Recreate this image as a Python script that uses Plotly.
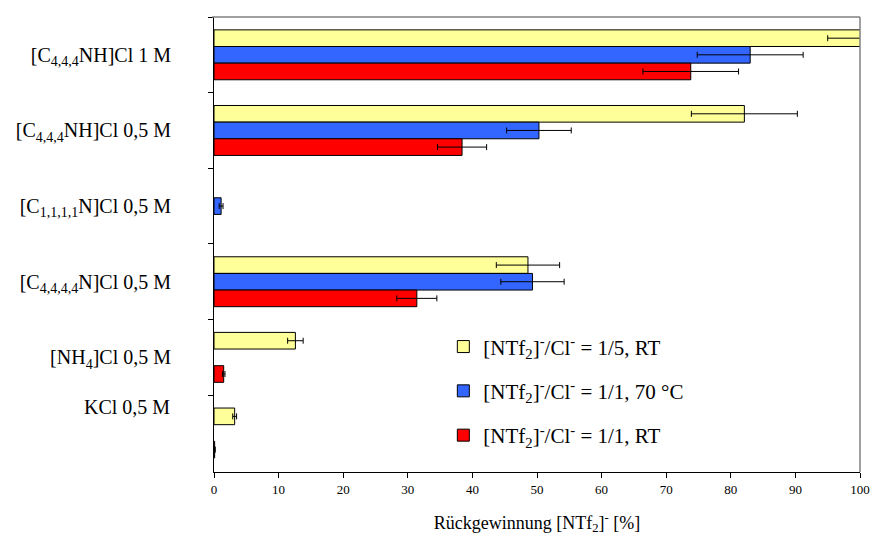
import plotly.graph_objects as go

# Salt solutions used for the extraction (top to bottom)
categories = [
    "[C<sub>4,4,4</sub>NH]Cl 1 M",
    "[C<sub>4,4,4</sub>NH]Cl 0,5 M",
    "[C<sub>1,1,1,1</sub>N]Cl 0,5 M",
    "[C<sub>4,4,4,4</sub>N]Cl 0,5 M",
    "[NH<sub>4</sub>]Cl 0,5 M",
    "KCl 0,5 M",
]

# Recovery of [NTf2]- in % and the standard deviations
ratio_1_5_rt = [100.4, 82.1, None, 48.6, 12.6, 3.2]
ratio_1_5_rt_err = [5.4, 8.2, 0, 4.9, 1.2, 0.3]

ratio_1_1_70 = [83.0, 50.3, 1.1, 49.3, None, None]
ratio_1_1_70_err = [8.2, 5.0, 0.3, 4.9, 0, 0]

ratio_1_1_rt = [73.8, 38.4, None, 31.4, 1.5, 0.1]
ratio_1_1_rt_err = [7.4, 3.8, 0, 3.1, 0.2, 0.1]

series = [
    ("[NTf<sub>2</sub>]<sup>-</sup>/Cl<sup>-</sup> = 1/5, RT", ratio_1_5_rt, ratio_1_5_rt_err, "#FFFF99"),
    ("[NTf<sub>2</sub>]<sup>-</sup>/Cl<sup>-</sup> = 1/1, 70 °C", ratio_1_1_70, ratio_1_1_70_err, "#3366FF"),
    ("[NTf<sub>2</sub>]<sup>-</sup>/Cl<sup>-</sup> = 1/1, RT", ratio_1_1_rt, ratio_1_1_rt_err, "#FF0000"),
]

FONT = "Liberation Serif"
LABEL_SIZE = 20

fig = go.Figure()
for i, (name, vals, errs, color) in enumerate(series):
    fig.add_trace(go.Bar(
        y=categories,
        x=vals,
        orientation="h",
        name=name,
        legendgroup=f"g{i}",
        marker=dict(color=color, line=dict(color="black", width=1)),
        error_x=dict(type="data", array=errs, visible=True,
                     color="black", thickness=1, width=3),
    ))

fig.update_layout(
    width=870,
    height=540,
    margin=dict(l=214, r=10, t=17, b=68, autoexpand=False),
    paper_bgcolor="white",
    plot_bgcolor="white",
    barmode="group",
    bargap=0.34,
    bargroupgap=0,
    font=dict(family=FONT, color="black"),
    showlegend=True,
    legend=dict(
        x=0.355, y=0.32, xanchor="left", yanchor="top",
        font=dict(size=21, family=FONT),
        bgcolor="rgba(0,0,0,0)",
        tracegroupgap=14,
    ),
    xaxis=dict(
        range=[0, 100],
        dtick=10,
        automargin=False,
        showgrid=False,
        zeroline=False,
        showline=True,
        linecolor="black",
        linewidth=1,
        ticks="outside",
        ticklen=5,
        tickcolor="black",
        tickfont=dict(size=13, family=FONT),
        title=dict(text="Rückgewinnung [NTf<sub>2</sub>]<sup>-</sup> [%]",
                   font=dict(size=18, family=FONT), standoff=20),
    ),
    yaxis=dict(
        autorange="reversed",
        type="category",
        automargin=False,
        showgrid=False,
        showline=True,
        linecolor="black",
        linewidth=1,
        ticks="outside",
        ticklen=5,
        tickcolor="black",
        tickson="boundaries",
        tickfont=dict(size=LABEL_SIZE, family=FONT),
        ticklabelstandoff=38,
        # the last label sits level with its upper bar, drawn separately below
        labelalias={categories[-1]: " "},
    ),
)

# Label of the last category, raised to the height of its first bar
fig.add_annotation(
    text=categories[-1], xref="paper", x=0, xanchor="right", xshift=-42,
    yref="y", y=categories[-1], yshift=26, showarrow=False,
    font=dict(size=LABEL_SIZE, family=FONT),
)

# Grey frame on the top and right sides of the plot area
fig.add_shape(type="line", xref="paper", yref="paper", x0=-0.003, x1=1, y0=1, y1=1,
              line=dict(color="#808080", width=1.5))
fig.add_shape(type="line", xref="paper", yref="paper", x0=1, x1=1, y0=0, y1=1,
              line=dict(color="#808080", width=1.5))

fig.write_html("out.html")
